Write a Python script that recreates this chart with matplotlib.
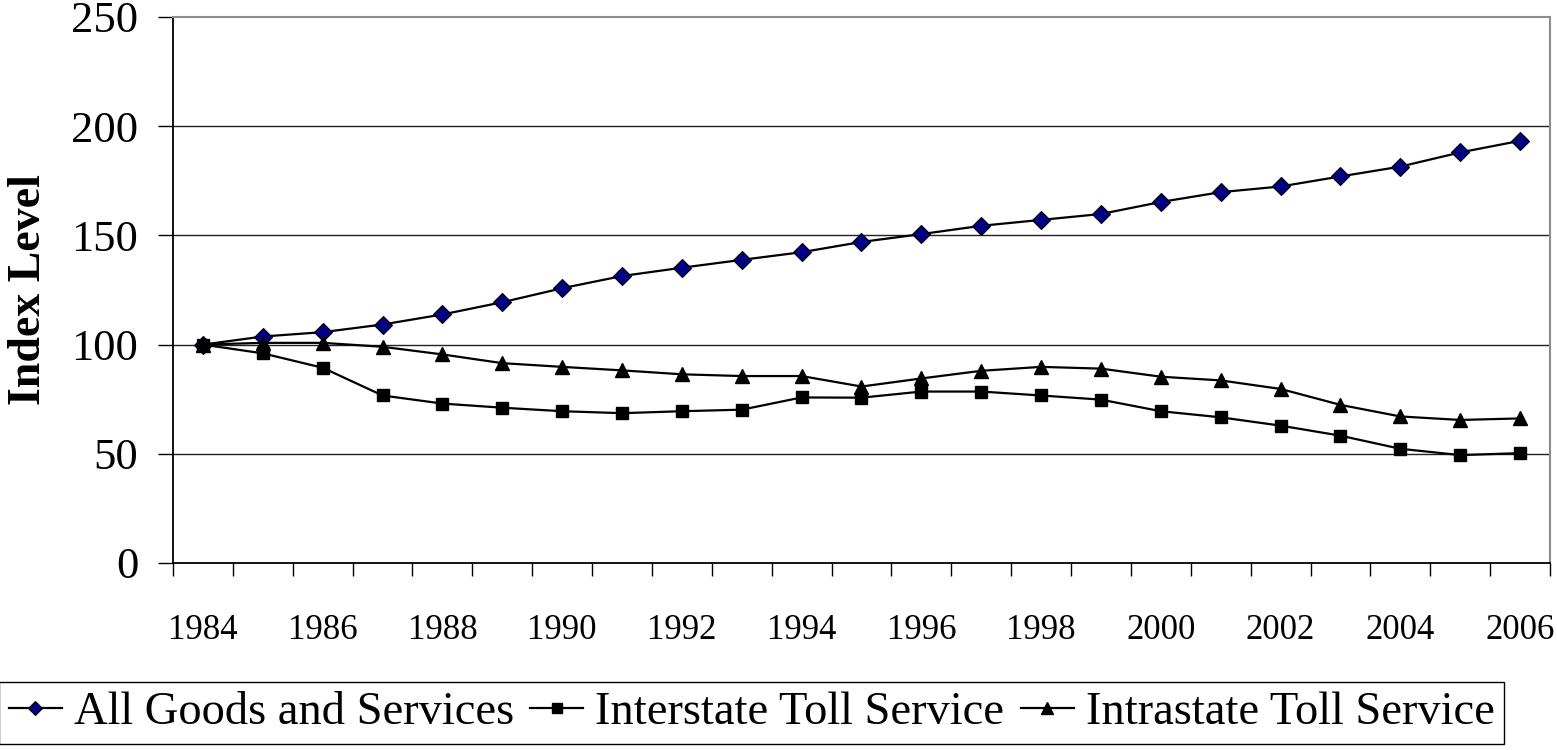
import matplotlib
matplotlib.use("Agg")
import matplotlib.pyplot as plt
import numpy as np

plt.rcParams["font.family"] = ["Liberation Serif", "DejaVu Serif"]

# data (index, 1984 = 100)
years = list(range(1984, 2007))
all_goods = [100, 103.7, 105.7, 109.2, 113.8, 119.4, 125.8, 131.4, 135.2, 138.8, 142.3, 147.0,
             150.6, 154.4, 157.1, 159.8, 165.3, 169.8, 172.4, 177.0, 181.5, 188.0, 193.3]
interstate = [100, 96.0, 89.4, 76.7, 73.0, 71.1, 69.5, 68.6, 69.5, 70.2, 75.8, 75.7,
              78.5, 78.5, 76.7, 74.8, 69.5, 66.7, 62.9, 58.3, 52.3, 49.4, 50.3]
intrastate = [100, 100.8, 100.8, 99.0, 95.5, 91.5, 89.8, 88.2, 86.4, 85.6, 85.6, 80.8,
              84.5, 88.0, 89.8, 89.0, 85.3, 83.6, 79.7, 72.4, 67.1, 65.5, 66.2]
yticks = [0, 50, 100, 150, 200, 250]

fig = plt.figure(figsize=(15.57, 7.5), dpi=100)
ax = fig.add_axes([173/1557, 1-563/750, 1377/1557, 546/750])

x = np.arange(len(years))

# gridlines
for v in yticks[1:-1]:
    ax.axhline(v, color='#222222', lw=1.0, zorder=1)

ax.plot(x, all_goods, color='k', lw=1.6, marker='D', ms=9, mfc='#000080', mec='k', mew=0.8,
        label='All Goods and Services', zorder=3)
ax.plot(x, interstate, color='k', lw=1.6, marker='s', ms=8.5, mfc='k', mec='k',
        label='Interstate Toll Service', zorder=3)
ax.plot(x, intrastate, color='k', lw=1.6, marker='^', ms=10, mfc='k', mec='k',
        label='Intrastate Toll Service', zorder=3)

ax.set_xlim(-0.5, len(years) - 0.5)
ax.set_ylim(0, 250)

# category axis: tick marks between categories, labels on every other year
ax.set_xticks(np.arange(-0.5, len(years), 1.0))
ax.set_xticklabels([])
ax.set_xticks(x[::2], minor=True)
ax.set_xticklabels([str(y) for y in years[::2]], minor=True, fontsize=25)
ax.tick_params(axis='x', which='major', direction='out', length=9, width=1.0, color='k')
ax.tick_params(axis='x', which='minor', length=0, pad=37)

ax.set_yticks(yticks)
ax.set_yticklabels([str(v) for v in yticks], fontsize=32)
ax.tick_params(axis='y', direction='out', length=11, width=1.0, pad=14, color='k')

for s in ['left', 'bottom']:
    ax.spines[s].set_color('k')
    ax.spines[s].set_linewidth(1.3)
for s in ['top', 'right']:
    ax.spines[s].set_color('#8c8c8c')
    ax.spines[s].set_linewidth(1.5)

ax.set_ylabel('Index Level', fontsize=33, fontweight='bold')
ax.yaxis.label.set_verticalalignment('center')
ax.yaxis.set_label_coords(-0.1045, 0.5)

leg = fig.legend(loc='center right', bbox_to_anchor=(1504/1557, 1-713/750), ncol=3, fontsize=33.5,
                 frameon=True, fancybox=False, edgecolor='k', framealpha=1,
                 handlelength=1.14, handletextpad=0.26, columnspacing=0.35, borderpad=0.2,
                 borderaxespad=0, markerscale=0.8)
leg.get_frame().set_linewidth(1.0)

fig.savefig('out.png', dpi=100)
